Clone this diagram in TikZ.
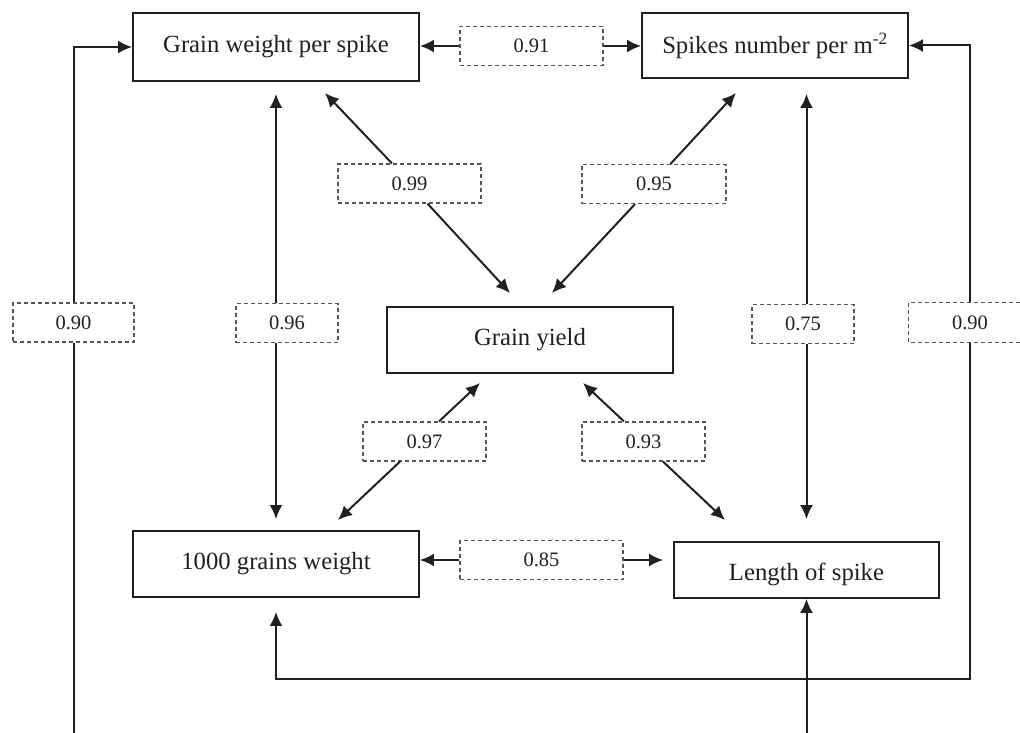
\documentclass[tikz,border=0pt]{standalone}
\usepackage{fontspec}
\setmainfont{Liberation Serif}
\usetikzlibrary{arrows.meta,calc}
\definecolor{linec}{HTML}{231F20}
\definecolor{dashc}{HTML}{555555}
\begin{document}
\begin{tikzpicture}[x=1pt,y=-1pt,
  box/.style={draw=linec, line width=1.9pt, rectangle, inner sep=0pt, font=\fontsize{24.7}{28}\selectfont, text=linec},
  val/.style={draw=dashc, line width=1.2pt, dash pattern=on 4pt off 3pt, fill=white, inner sep=0pt, minimum height=39pt, font=\fontsize{20.5}{24}\selectfont, text=linec},
  valframe/.style={draw=dashc, line width=1.2pt, dash pattern=on 4pt off 3pt},
  conn/.style={draw=linec, line width=2pt},
  arr/.style={conn, -{Latex[length=14pt,width=13pt]}},
]
\useasboundingbox (0,0) rectangle (1020,733);
\clip (0,0) rectangle (1020,733);

% main boxes
\node[box, minimum width=286pt, minimum height=68pt] (gws) at (276,47) {Grain weight per spike};
\node[box, minimum width=266pt, minimum height=65pt] (sn) at (775,45.5) {Spikes number per m\textsuperscript{-2}};
\node[box, minimum width=286pt, minimum height=66pt] (gy) at (530,340) {Grain yield};
\node[box, minimum width=286pt, minimum height=66pt] (tgw) at (276,564) {1000 grains weight};
\node[box, minimum width=265pt, minimum height=56pt, text height=24pt, text depth=4pt] (ls) at (806.5,570) {Length of spike};

% value boxes
\node[val, minimum width=143pt] (d91) at (531.5,46) {0.91};
\node[val, minimum width=143pt] (d99) at (409.5,183.5) {0.99};
\node[val, minimum width=144pt] (d95) at (654,184) {0.95};
\node[val, minimum width=121pt] (d90l) at (73.5,322.5) {0.90};
\node[val, minimum width=102pt] (d96) at (287,323) {0.96};
\node[val, minimum width=102pt] (d75) at (803,324) {0.75};
\node[val, draw=none, minimum width=122pt] (d90r) at (970,322.5) {0.90};
\draw[valframe] ([xshift=30pt]d90r.north east) -- (d90r.north west) -- (d90r.south west) -- ([xshift=30pt]d90r.south east);
\node[val, minimum width=123pt] (d97) at (424.5,441.5) {0.97};
\node[val, minimum width=123pt] (d93) at (643.5,441.5) {0.93};
\node[val, minimum width=163pt] (d85) at (541.5,560) {0.85};

% free ends
\coordinate (t99u) at (325,93);
\coordinate (t99d) at (510,293);
\coordinate (t95u) at (736,93);
\coordinate (t95d) at (552,293);
\coordinate (t97u) at (480,383);
\coordinate (t97d) at (338,520);
\coordinate (t93u) at (583,383);
\coordinate (t93d) at (725,520);
\coordinate (bl) at (73.5,740);
\coordinate (br) at (806.5,740);
\coordinate (corner) at (970,679);

% horizontal connectors
\draw[arr] (d91.west) -- (d91.west -| gws.east);
\draw[arr] (d91.east) -- (d91.east -| sn.west);
\draw[arr] (d85.west) -- (d85.west -| tgw.east);
\draw[arr, shorten >=10pt] (d85.east) -- (d85.east -| ls.west);

% vertical connectors
\draw[arr, shorten >=12pt] (d96.north -| gws.south) -- (gws.south);
\draw[arr, shorten >=11pt] (d96.south -| tgw.north) -- (tgw.north);
\draw[arr, shorten >=15pt] (d75.north -| ls.north) -- (sn.south -| ls.north);
\draw[arr, shorten >=22pt] (d75.south -| ls.north) -- (ls.north);

% outer loops
\draw[conn] (bl) -- (d90l.south);
\draw[arr] (d90l.north) |- (gws.west);
\draw[arr] (d90r.north) |- (sn.east);
\draw[arr, shorten >=14pt] (d90r.south) -- (corner) -| (tgw.south);
\draw[arr] (br) -- (ls.south);

% diagonals
\draw[arr] ([xshift=-17.5pt]d99.north) -- (t99u);
\draw[arr] ([xshift=18pt]d99.south) -- (t99d);
\draw[arr] ([xshift=16.5pt]d95.north) -- (t95u);
\draw[arr] ([xshift=-19pt]d95.south) -- (t95d);
\draw[arr] ([xshift=14.5pt]d97.north) -- (t97u);
\draw[arr] ([xshift=-24.5pt]d97.south) -- (t97d);
\draw[arr] ([xshift=-19.5pt]d93.north) -- (t93u);
\draw[arr] ([xshift=19.5pt]d93.south) -- (t93d);
\end{tikzpicture}
\end{document}
